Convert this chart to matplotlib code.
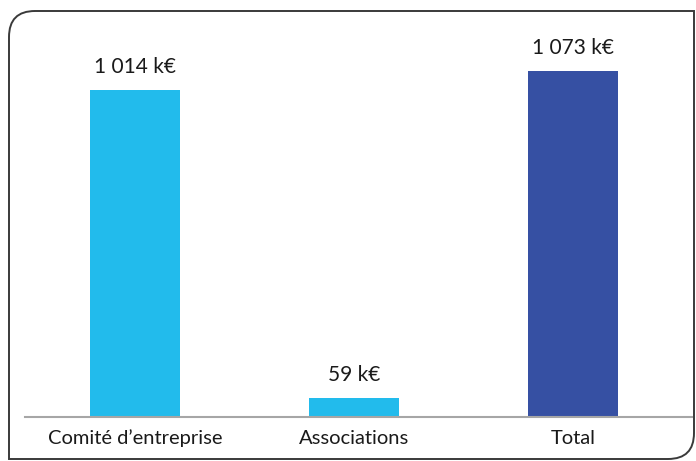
import matplotlib
matplotlib.use('Agg')
import matplotlib.pyplot as plt
from matplotlib.path import Path
from matplotlib.patches import PathPatch

plt.rcParams['font.family'] = ['Lato', 'DejaVu Sans']

categories = ['Comité d\u2019entreprise', 'Associations', 'Total']
values = [1014, 59, 1073]
labels = ['1 014 k\u20ac', '59 k\u20ac', '1 073 k\u20ac']
colors = ['#22BBEC', '#22BBEC', '#3650A3']

W, H = 696, 461
fig = plt.figure(figsize=(W / 100, H / 100), dpi=100)
ax = fig.add_axes([25 / W, (H - 417) / H, (692 - 25) / W, (417 - 20) / H])

x = range(len(categories))
ax.bar(x, values, width=0.41, color=colors, zorder=2)
for xi, v, lab in zip(x, values, labels):
    ax.annotate(lab, (xi, v), xytext=(0, 9), textcoords='offset points',
                ha='center', va='bottom', fontsize=15, color='#1a1a1a')

ax.set_xlim(-0.502, 2.543)
ax.set_ylim(0, 1231)
ax.set_xticks(list(x))
ax.set_xticklabels(categories, fontsize=14.5, color='#1a1a1a')
ax.tick_params(axis='x', length=0, pad=9)
ax.set_yticks([])
for side in ['top', 'left', 'right']:
    ax.spines[side].set_visible(False)
ax.spines['bottom'].set_color('#A6A6A6')
ax.spines['bottom'].set_linewidth(1.5)
ax.patch.set_alpha(0)

# frame with rounded top-left and bottom-right corners (pixel coords, y down)
l, t, r, b, rad = 9, 11, 694, 459, 26
pts = [(l, b), (l, t + rad), (l, t), (l + rad, t), (r, t), (r, b - rad), (r, b), (r - rad, b), (l, b)]
codes = [Path.MOVETO, Path.LINETO, Path.CURVE3, Path.CURVE3, Path.LINETO,
         Path.LINETO, Path.CURVE3, Path.CURVE3, Path.CLOSEPOLY]
pts = [(px / W, 1 - py / H) for px, py in pts]
frame = PathPatch(Path(pts, codes), transform=fig.transFigure, fill=False,
                  edgecolor='#3a3a3a', linewidth=1.4)
fig.patches.append(frame)

fig.savefig('out.png', dpi=100, facecolor='white')
